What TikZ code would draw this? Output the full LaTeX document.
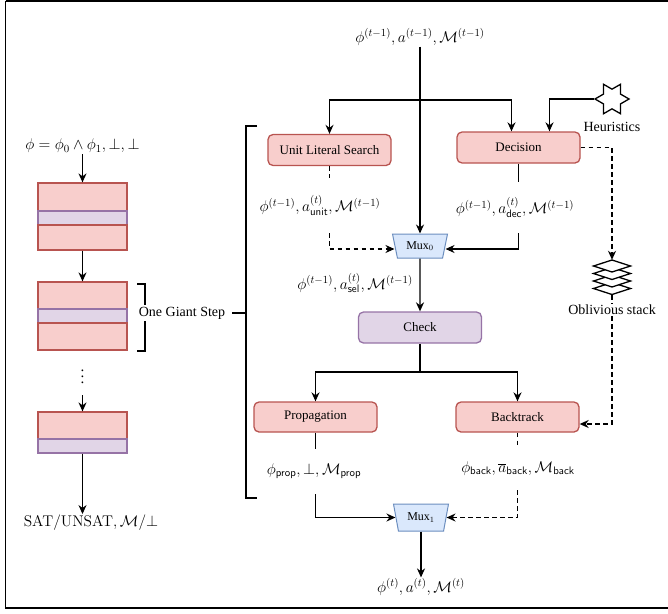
\RequirePackage{fix-cm}
\documentclass[tikz,border=0pt]{standalone}
\usepackage[no-math]{fontspec}
\setmainfont{Liberation Serif}
\usetikzlibrary{shapes.geometric,arrows.meta}
\definecolor{redfill}{HTML}{F8CECC}
\definecolor{redline}{HTML}{B85450}
\definecolor{purfill}{HTML}{E1D5E7}
\definecolor{purline}{HTML}{9673A6}
\definecolor{bluefill}{HTML}{DAE8FC}
\definecolor{blueline}{HTML}{6C8EBF}
\tikzset{
 arr/.style={line width=1.35pt,-{Stealth[length=9pt,width=8pt]}},
 conn/.style={line width=1.35pt},
 darr/.style={arr,dash pattern=on 4.5pt off 3.5pt},
 dconn/.style={conn,dash pattern=on 4.5pt off 3.5pt},
 proc/.style={draw=redline,fill=redfill,line width=1.3pt,rounded corners=5pt,minimum width=123pt,minimum height=31pt,inner sep=0pt,font=\fontsize{13}{15}\selectfont},
 chkbox/.style={proc,draw=purline,fill=purfill},
 mux/.style={trapezium,shape border rotate=180,trapezium stretches body,trapezium left angle=63,trapezium right angle=63,minimum width=55pt,minimum height=24pt,inner sep=0pt,draw=blueline,fill=bluefill,line width=1pt,font=\fontsize{12}{14}\selectfont},
 mlbl/.style={font=\fontsize{15.5}{18}\selectfont,inner sep=1pt},
 tlbl/.style={font=\fontsize{14}{16}\selectfont,inner sep=1pt},
 redstripe/.style={draw=redline,fill=redfill,line width=1.2pt,minimum width=89pt,inner sep=0pt},
 purstripe/.style={draw=purline,fill=purfill,line width=1.2pt,minimum width=89pt,inner sep=0pt,minimum height=14pt},
 stackdia/.style={draw,fill=white,line width=1.3pt,line join=miter},
}
\begin{document}
\begin{tikzpicture}[x=1pt,y=-1pt]
\useasboundingbox (0,0) rectangle (668,613);
% frame
\draw[line width=1.2pt] (5.5,1) -- (668,1);
\draw[line width=1.3pt] (5.5,1) -- (5.5,608) -- (668,608);

% ---------- left column ----------
\node[mlbl] (lin) at (82.5,146) {$\phi = \phi_0 \wedge \phi_1, \bot, \bot$};
\node[redstripe,minimum height=28pt] (b1t) at (82.5,197) {};
\node[purstripe] (b1m) at (82.5,218) {};
\node[redstripe,minimum height=25pt] (b1b) at (82.5,237.5) {};
\node[redstripe,minimum height=27pt] (b2t) at (82.5,295.5) {};
\node[purstripe] (b2m) at (82.5,316) {};
\node[redstripe,minimum height=27pt] (b2b) at (82.5,336.5) {};
\node[scale=1.5,inner sep=1pt,anchor=base] (dots) at (82.5,383) {$\vdots$};
\node[redstripe,minimum height=27pt] (b3t) at (82.5,425.5) {};
\node[purstripe] (b3m) at (82.5,446) {};
\node[mlbl] (lout) at (91,523) {$\mathrm{SAT/UNSAT}, \mathcal{M}/\bot$};

\draw[arr] (lin) -- (b1t);
\draw[arr] (b1b) -- (b2t);
\draw[arr,shorten <=10pt] (dots.south) -- (b3t.north);
\draw[arr] (b3m.south) -- (b3m.south |- lout.north);

% small bracket
\draw[conn] (137,284) -- (145,284) -- (145,351) -- (137,351);
\node[tlbl,fill=white,inner sep=2pt] (ogs) at (182,313) {One Giant Step};

% big bracket
\draw[conn] (257,126) -- (246,126) -- (246,498) -- (257,498);
\draw[conn] (232,313) -- (246,313);

% ---------- right part ----------
\node[mlbl] (tin) at (420,37) {$\phi^{(t-1)}, a^{(t-1)}, \mathcal{M}^{(t-1)}$};
\node[proc] (uls) at (329.5,150) {Unit Literal Search};
\node[proc] (dec) at (518.5,147.5) {Decision};
\node[star,star points=6,star point ratio=1.73,shape border rotate=30,draw,fill=white,line width=1.3pt,minimum size=34pt,inner sep=0pt] (heu) at (612,99) {};
\node[tlbl] (heul) at (612,127) {Heuristics};

% stack icon
\foreach \cy in {288.5,281,273.5,266}{
  \draw[stackdia] (593.5,\cy) -- (612,\cy-6) -- (630.5,\cy) -- (612,\cy+6) -- cycle;
}
\node[minimum width=37pt,minimum height=35pt,inner sep=0pt] (stk) at (612,277.5) {};
\node[tlbl,fill=white] (stkl) at (612,310) {Oblivious stack};

\node[mux] (mux0) at (420,246) {Mux$_0$};
\node[mlbl,minimum height=55pt] (ulsl) at (320,205.5) {$\phi^{(t-1)}, a^{(t)}_{\mathsf{unit}}, \mathcal{M}^{(t-1)}$};
\node[mlbl,minimum height=51pt] (decl) at (515,207.5) {$\phi^{(t-1)}, a^{(t)}_{\mathsf{dec}}, \mathcal{M}^{(t-1)}$};
\node[mlbl,anchor=east] (sell) at (414,283) {$\phi^{(t-1)}, a^{(t)}_{\mathsf{sel}}, \mathcal{M}^{(t-1)}$};
\node[chkbox] (chk) at (420,327.5) {Check};
\node[proc,minimum height=30pt] (prop) at (315.5,417) {Propagation};
\node[proc,minimum height=30pt] (back) at (517.5,417) {Backtrack};
\node[mlbl,minimum height=45pt] (propl) at (314,471.5) {$\phi_{\mathsf{prop}}, \bot, \mathcal{M}_{\mathsf{prop}}$};
\node[mlbl,minimum height=43pt] (backl) at (518,468.5) {$\phi_{\mathsf{back}}, \overline{a}_{\mathsf{back}}, \mathcal{M}_{\mathsf{back}}$};
\node[mux,minimum height=27pt] (mux1) at (421,517.5) {Mux$_1$};
\node[mlbl] (tout) at (421,587) {$\phi^{(t)}, a^{(t)}, \mathcal{M}^{(t)}$};

\coordinate (br0) at (420,100);
\coordinate (br1) at (420,372);

\draw[arr] (tin) -- (mux0);
\draw[arr] (br0) -| (uls.north);
\draw[arr] (br0) -| ([xshift=-7pt]dec.north);
\draw[arr] (heu.west) -| ([xshift=31pt]dec.north);
\draw[darr] (dec.east) -| (stk.north);
\draw[dconn] (stk.south) -- (stkl.north);
\draw[darr] (stkl.south) |- ([yshift=-7pt]back.east);

\draw[dconn] (uls.south) -- (uls.south |- ulsl.north);
\draw[darr] (uls.south |- ulsl.south) |- ([yshift=-3pt]mux0.west);
\draw[conn] (dec.south) -- (dec.south |- decl.north);
\draw[arr] (dec.south |- decl.south) |- ([yshift=-3pt]mux0.east);

\draw[arr] (mux0) -- (chk);
\draw[conn] (chk) -- (br1);
\draw[arr] (br1) -| (prop.north);
\draw[arr] (br1) -| (back.north);

\draw[conn] (prop.south) -- (prop.south |- propl.north);
\draw[arr] (prop.south |- propl.south) |- (mux1.west);
\draw[dconn] (back.south) -- (back.south |- backl.north);
\draw[darr] (back.south |- backl.south) |- (mux1.east);
\draw[arr] (mux1.south) -- (mux1.south |- tout.north);
\end{tikzpicture}
\end{document}
